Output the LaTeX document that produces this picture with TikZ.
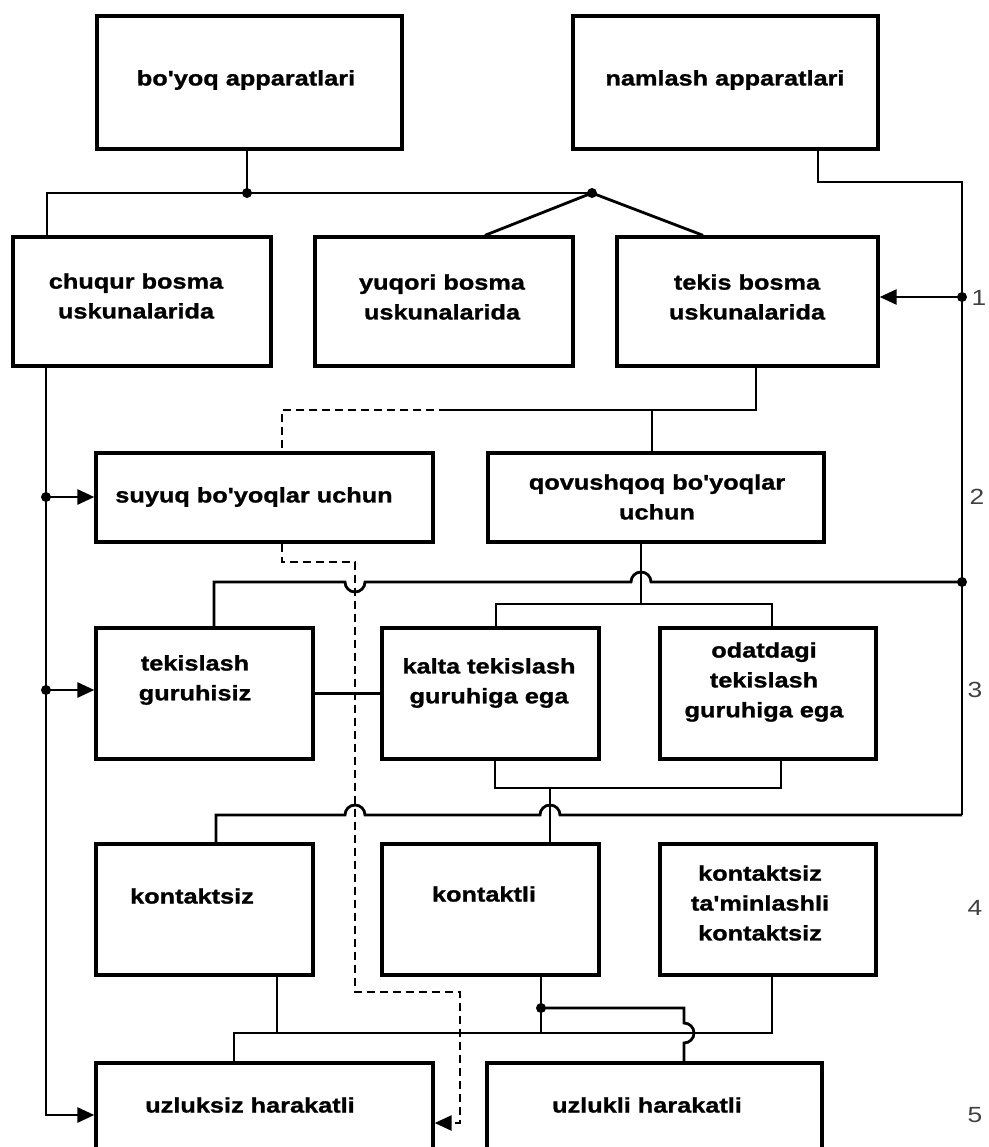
\documentclass[tikz,border=0pt]{standalone}
\usepackage{fontspec}
\setmainfont{Liberation Sans}[FakeStretch=1.2, Ligatures=TeXOff, BoldFeatures={FakeBold=1.2}]
\usetikzlibrary{arrows.meta, calc, fit, positioning}

\begin{document}
\begin{tikzpicture}[x=0.02cm, y=-0.02cm,
	box/.style={draw, line width=1.9pt, inner sep=0pt},
	txt/.style={align=center, font=\bfseries\fontsize{12}{17}\selectfont},
	num/.style={font=\fontsize{12.5}{14}\selectfont, text=black!75},
	conn/.style={line width=1.6pt},
	dash line/.style={line width=1.4pt, dash pattern=on 0.16cm off 0.1cm},
	arr/.style={-{Triangle[length=0.34cm, width=0.3cm]}}]
	\useasboundingbox (0,0) rectangle (988,1147);

	\node[box, fit={(97,16) (402,149)}] (boyoq) {};
	\node[box, fit={(573,16) (878,149)}] (namlash) {};
	\node[box, fit={(13,237) (271,366)}] (chuqur) {};
	\node[box, fit={(315,237) (573,366)}] (yuqori) {};
	\node[box, fit={(617,237) (878,366)}] (tekis) {};
	\node[box, fit={(96,453) (433,542)}] (suyuq) {};
	\node[box, fit={(488,453) (824,542)}] (qovush) {};
	\node[box, fit={(96,628) (313,759)}] (tekgsiz) {};
	\node[box, fit={(382,628) (599,759)}] (kalta) {};
	\node[box, fit={(660,628) (876,759)}] (odat) {};
	\node[box, fit={(96,844) (313,975)}] (kontsiz) {};
	\node[box, fit={(382,844) (599,975)}] (kontli) {};
	\node[box, fit={(660,844) (876,975)}] (kontmin) {};
	\node[box, fit={(96,1063) (433,1152)}] (uzluksiz) {};
	\node[box, fit={(487,1063) (822,1152)}] (uzlukli) {};

	\node[txt] (boyoq-t) at (246,80) {bo'yoq apparatlari};
	\node[txt] (namlash-t) at (725,80) {namlash apparatlari};
	\node[txt] (chuqur-t) at (136,296) {chuqur bosma\\uskunalarida};
	\node[txt] (yuqori-t) at (442,297) {yuqori bosma\\uskunalarida};
	\node[txt] (tekis-t) at (747,297) {tekis bosma\\uskunalarida};
	\node[txt] (suyuq-t) at (254,497) {suyuq bo'yoqlar uchun};
	\node[txt] (qovush-t) at (657,497) {qovushqoq bo'yoqlar\\uchun};
	\node[txt] (tekgsiz-t) at (195,680) {tekislash\\guruhisiz};
	\node[txt] (kalta-t) at (489,683) {kalta tekislash\\guruhiga ega};
	\node[txt] (odat-t) at (764,682) {odatdagi\\tekislash\\guruhiga ega};
	\node[txt] (kontsiz-t) at (192,896) {kontaktsiz};
	\node[txt] (kontli-t) at (484,894) {kontaktli};
	\node[txt] (kontmin-t) at (760,903) {kontaktsiz\\ta'minlashli\\kontaktsiz};
	\node[txt] (uzluksiz-t) at (250,1105) {uzluksiz harakatli};
	\node[txt] (uzlukli-t) at (647,1105) {uzlukli harakatli};

	\node[num] (n1) at (979,298) {1};
	\node[num] (n2) at (977,497) {2};
	\node[num] (n3) at (975,690) {3};
	\node[num] (n4) at (975,908) {4};
	\node[num] (n5) at (975,1115) {5};

	\coordinate (jA) at (247,193);
	\coordinate (jB) at (592,193);
	\coordinate (jC) at (47,193);
	\draw[conn] (boyoq.south -| jA) -- (jA);
	\draw[conn] (jC |- chuqur.north) -- (jC) -- (jB);
	\draw[conn] (485,0 |- yuqori.north) -- (jB) -- (703,0 |- tekis.north);

	\coordinate (rA) at (962,182);
	\coordinate (r1) at (962,297);
	\coordinate (r3) at (962,582);
	\coordinate (rB) at (962,815);
	\draw[conn] (818,0 |- namlash.south) |- (rA) -- (rB);
	\draw[conn,arr] (r1) -- (tekis.east |- r1);

	\coordinate (t1) at (756,410);
	\coordinate (t2) at (652,410);
	\coordinate (t3) at (447,410);
	\coordinate (t4) at (282,410);
	\draw[conn] (t1 |- tekis.south) -- (t1) -- (t3);
	\draw[conn] (t2) -- (t2 |- qovush.north);
	\draw[dash line] (t3) -- (t4) -- (t4 |- suyuq.north);

	\coordinate (d1) at (282,562);
	\coordinate (d2) at (355,562);
	\coordinate (d3) at (355,992);
	\coordinate (d4) at (460,992);
	\coordinate (d5) at (460,1123);
	\draw[dash line,arr] (d1 |- suyuq.south) -- (d1) -- (d2) -- (d3) -- (d4) -- (d5) -- (uzluksiz.east |- d5);

	\coordinate (h1) at (214,582);
	\draw[conn] (r3) -- (651,582) arc[start angle=0, end angle=180, radius=0.2cm]
		-- (365,582) arc[start angle=0, end angle=-180, radius=0.2cm]
		-- (h1) -- (h1 |- tekgsiz.north);

	\coordinate (q1) at (641,604);
	\draw[conn] (q1 |- qovush.south) -- (q1);
	\draw[conn] (496,0 |- kalta.north) |- (q1) -| (772,0 |- odat.north);
	\draw[conn] (tekgsiz.east) -- (kalta.west);

	\coordinate (k1) at (550,788);
	\draw[conn] (495,0 |- kalta.south) |- (k1) -| (781,0 |- odat.south);
	\draw[conn] (k1) -- (k1 |- kontli.north);

	\coordinate (h2) at (216,815);
	\draw[conn] (rB) -- (560,815) arc[start angle=0, end angle=180, radius=0.2cm]
		-- (365,815) arc[start angle=0, end angle=180, radius=0.2cm]
		-- (h2) -- (h2 |- kontsiz.north);

	\coordinate (l2) at (46,497);
	\coordinate (l3) at (46,690);
	\coordinate (l5) at (46,1115);
	\draw[conn,arr] (l2 |- chuqur.south) -- (l5) -- (uzluksiz.west |- l5);
	\draw[conn,arr] (l2) -- (suyuq.west |- l2);
	\draw[conn,arr] (l3) -- (tekgsiz.west |- l3);

	\coordinate (m1) at (234,1033);
	\coordinate (m2) at (541,1008);
	\coordinate (m3) at (684,1008);
	\draw[conn] (277,0 |- kontsiz.south) -- (277,0 |- m1);
	\draw[conn] (m2 |- kontli.south) -- (m2 |- m1);
	\draw[conn] (772,0 |- kontmin.south) |- (m1) -- (m1 |- uzluksiz.north);
	\draw[conn] (m2) -- (m3) -- (684,1023) arc[start angle=90, end angle=-90, radius=0.2cm]
		-- (m3 |- uzlukli.north);

	\foreach \p in {jA,jB,r1,r3,l2,l3,m2}
		\fill (\p) circle[radius=0.1cm];
\end{tikzpicture}
\end{document}
